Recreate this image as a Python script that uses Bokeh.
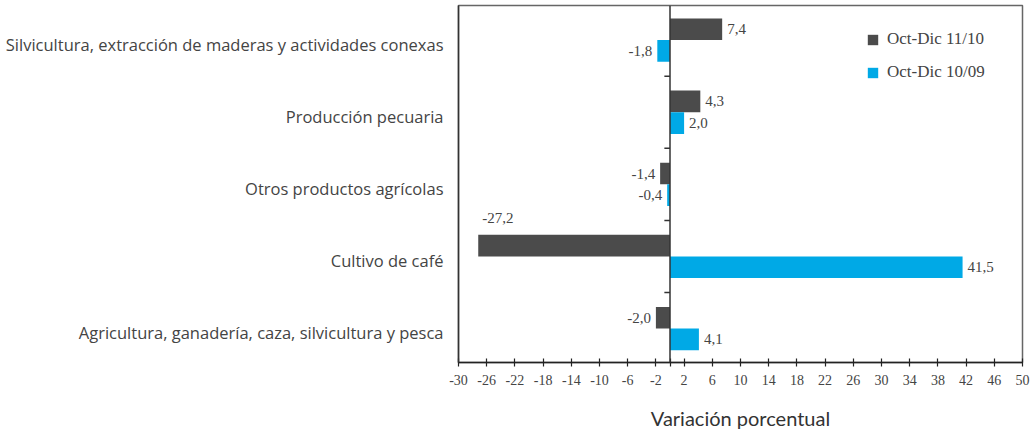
from bokeh.plotting import figure
from bokeh.models import ColumnDataSource, FixedTicker, Span, Legend, LegendItem, Range1d
from bokeh.embed import file_html
from bokeh.resources import INLINE
from bokeh.core.properties import value

categories = [
    "Agricultura, ganadería, caza, silvicultura y pesca",
    "Cultivo de café",
    "Otros productos agrícolas",
    "Producción pecuaria",
    "Silvicultura, extracción de maderas y actividades conexas",
]
series_names = ["Oct-Dic 11/10", "Oct-Dic 10/09"]
oct_dic_11_10 = [-2.0, -27.2, -1.4, 4.3, 7.4]
oct_dic_10_09 = [4.1, 41.5, -0.4, 2.0, -1.8]
x_ticks = [-30, -26, -22, -18, -14, -10, -6, -2, 2, 6, 10, 14, 18, 22, 26, 30, 34, 38, 42, 46, 50]
colors = ["#4b4b4b", "#00a9e6"]

W, H = 1035, 432
p = figure(width=W, height=H, output_backend="svg", toolbar_location=None,
           x_range=Range1d(-30, 50), y_range=Range1d(-0.47, len(categories) - 0.52),
           min_border_left=458, min_border_right=13, min_border_top=5, min_border_bottom=67)
p.background_fill_color = "white"
p.border_fill_color = "white"
p.xgrid.visible = False
p.ygrid.visible = False
p.outline_line_color = "#666666"
p.outline_line_width = 1.5

idx = list(range(len(categories)))
bar_h = 0.30
off = 0.15
fmt = lambda v: ("%.1f" % v).replace(".", ",").replace("−", "-")

renderers = []
for k, (vals, col, sgn) in enumerate([(oct_dic_11_10, colors[0], 1), (oct_dic_10_09, colors[1], -1)]):
    ys = [i + sgn * off for i in idx]
    src = ColumnDataSource(dict(y=ys, right=vals, left=[0] * len(vals)))
    r = p.hbar(y="y", left="left", right="right", height=bar_h, source=src,
               fill_color=col, line_color=None)
    renderers.append(r)
    lx, ly, lt, la, lxo, lyo = [], [], [], [], [], []
    for yv, v in zip(ys, vals):
        lt.append(fmt(v))
        if v < -20:
            lx.append(v); ly.append(yv + bar_h / 2); la.append("left"); lxo.append(4); lyo.append(-17)
        elif v < 0:
            lx.append(v); ly.append(yv); la.append("right"); lxo.append(-5); lyo.append(0)
        else:
            lx.append(v); ly.append(yv); la.append("left"); lxo.append(5); lyo.append(0)
    lsrc = ColumnDataSource(dict(x=lx, y=ly, t=lt, a=la, xo=lxo, yo=lyo))
    p.text(x="x", y="y", text="t", text_align="a", x_offset="xo", y_offset="yo",
           text_baseline="middle", source=lsrc,
           text_font=value("Liberation Serif"), text_font_size="15px", text_color="#444444")

# zero line
p.add_layout(Span(location=0, dimension="height", line_color="#333333", line_width=1.5))
# small ticks on zero line at category boundaries
bx = [i + 0.5 for i in idx[:-1]]
p.segment(x0=[-0.8] * len(bx), x1=[0] * len(bx), y0=bx, y1=bx, line_color="#333333", line_width=1.5)

# axes
p.xaxis.ticker = FixedTicker(ticks=x_ticks + [0])
p.xaxis.major_label_overrides = {**{t: str(t) for t in x_ticks}, 0: ""}
p.xaxis.axis_label = "Variación porcentual"
p.xaxis.axis_label_text_font = "Lato"
p.xaxis.axis_label_text_font_style = "normal"
p.xaxis.axis_label_text_font_size = "20px"
p.xaxis.axis_label_text_color = "#333333"
p.xaxis.axis_label_standoff = 18
p.xaxis.major_label_text_font = "Liberation Serif"
p.xaxis.major_label_text_font_size = "14px"
p.xaxis.major_label_text_color = "#444444"
p.xaxis.major_label_standoff = 8
p.xaxis.axis_line_color = "#222222"
p.xaxis.axis_line_width = 1.5
p.xaxis.major_tick_line_color = "#222222"
p.xaxis.major_tick_line_width = 1.2
p.xaxis.major_tick_in = 4
p.xaxis.major_tick_out = 4
p.xaxis.minor_tick_line_color = None

label_pos = [round(i - 0.06, 2) for i in idx]
p.yaxis.ticker = FixedTicker(ticks=label_pos)
p.yaxis.major_label_overrides = {t: c for t, c in zip(label_pos, categories)}
p.yaxis.major_label_text_font = "Open Sans"
p.yaxis.major_label_text_font_size = "16.5px"
p.yaxis.major_label_text_color = "#444444"
p.yaxis.major_tick_line_color = None
p.yaxis.minor_tick_line_color = None
p.yaxis.axis_line_color = "#333333"
p.yaxis.axis_line_width = 1.5
p.yaxis.major_label_standoff = 9

legend = Legend(items=[LegendItem(label=n, renderers=[r]) for n, r in zip(series_names, renderers)],
                location=(408, 280), orientation="vertical")
legend.border_line_color = None
legend.background_fill_alpha = 0
legend.label_text_font = "Liberation Serif"
legend.label_text_font_size = "17px"
legend.label_text_color = "#444444"
legend.label_height = 16
legend.glyph_width = 13
legend.glyph_height = 13
legend.label_standoff = 8
legend.spacing = 13
legend.padding = 0
legend.margin = 0
p.add_layout(legend, "center")

open("out.html", "w").write(file_html(p, INLINE))
